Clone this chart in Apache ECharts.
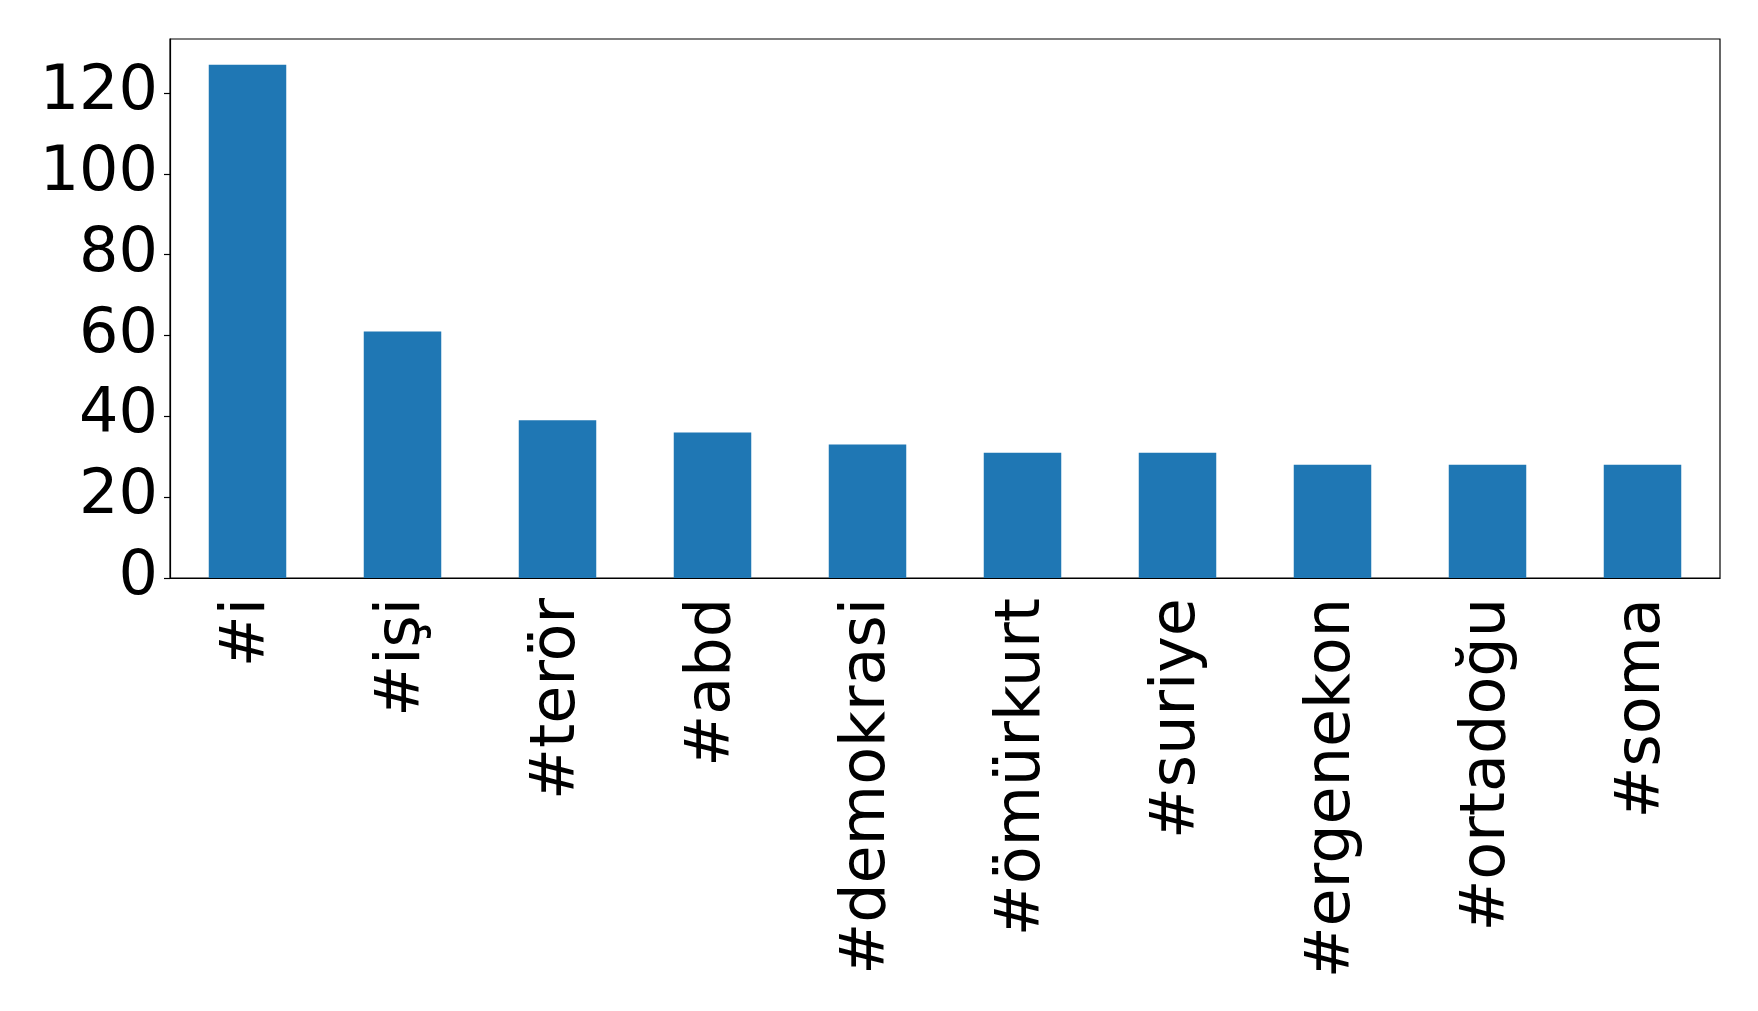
<!DOCTYPE html>
<html>
<head>
<meta charset="UTF-8">
<title>hashtag counts</title>
<script src="https://cdn.jsdelivr.net/npm/echarts@6/dist/echarts.min.js"></script>
<style>
  html, body { margin: 0; padding: 0; background: #fff; }
  #chart { width: 1758px; height: 1011px; }
</style>
</head>
<body>
<div id="chart"></div>
<script>
// data
var tags = ['#i', '#işi', '#terör', '#abd', '#demokrasi', '#ömürkurt', '#suriye', '#ergenekon', '#ortadoğu', '#soma'];
var counts = [127, 61, 39, 36, 33, 31, 31, 28, 28, 28];
var yTicks = [0, 20, 40, 60, 80, 100, 120];

var chart = echarts.init(document.getElementById('chart'));
var font = 'DejaVu Sans';

chart.setOption({
  animation: false,
  grid: {
    left: 170, right: 38, top: 39, bottom: 433,
    show: true, borderColor: '#000', borderWidth: 1.2, backgroundColor: 'transparent'
  },
  xAxis: {
    type: 'category',
    data: tags,
    axisLine: { lineStyle: { color: '#000', width: 1.2 } },
    axisTick: { alignWithLabel: true, length: 6, lineStyle: { color: '#000', width: 1.2 } },
    axisLabel: { rotate: 90, margin: 20, color: '#000', fontSize: 62, fontFamily: font }
  },
  yAxis: {
    type: 'value',
    min: 0,
    max: 133.35,
    interval: 20,
    splitLine: { show: false },
    axisLine: { show: true, lineStyle: { color: '#000', width: 1.2 } },
    axisTick: { show: true, length: 6, customValues: yTicks, lineStyle: { color: '#000', width: 1.2 } },
    axisLabel: { margin: 12, color: '#000', fontSize: 62, fontFamily: font, customValues: yTicks }
  },
  series: [{
    type: 'bar',
    data: counts,
    barWidth: '50%',
    itemStyle: { color: '#1f77b4' }
  }]
});
</script>
</body>
</html>
